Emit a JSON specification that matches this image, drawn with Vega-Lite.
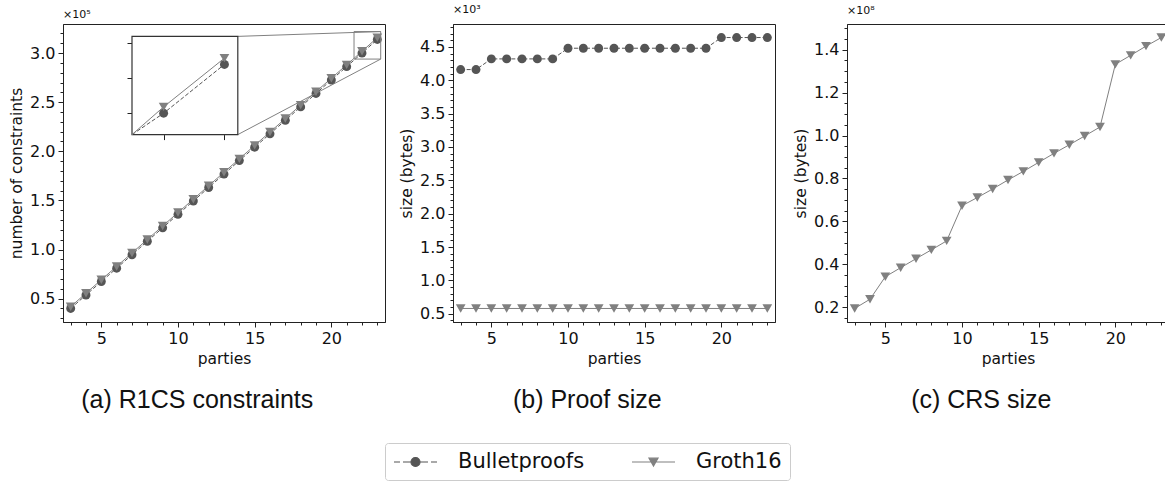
{
  "$schema": "https://vega.github.io/schema/vega-lite/v6.json",
  "background": "white",
  "padding": {"left": 9, "top": 3, "right": 0, "bottom": 0},
  "datasets": {
    "constraints": [
      {"parties": 3, "scheme": "Bulletproofs", "value": 40000},
      {"parties": 4, "scheme": "Bulletproofs", "value": 53700},
      {"parties": 5, "scheme": "Bulletproofs", "value": 67400},
      {"parties": 6, "scheme": "Bulletproofs", "value": 81000},
      {"parties": 7, "scheme": "Bulletproofs", "value": 94700},
      {"parties": 8, "scheme": "Bulletproofs", "value": 108400},
      {"parties": 9, "scheme": "Bulletproofs", "value": 122100},
      {"parties": 10, "scheme": "Bulletproofs", "value": 135800},
      {"parties": 11, "scheme": "Bulletproofs", "value": 149400},
      {"parties": 12, "scheme": "Bulletproofs", "value": 163100},
      {"parties": 13, "scheme": "Bulletproofs", "value": 176800},
      {"parties": 14, "scheme": "Bulletproofs", "value": 190500},
      {"parties": 15, "scheme": "Bulletproofs", "value": 204200},
      {"parties": 16, "scheme": "Bulletproofs", "value": 217800},
      {"parties": 17, "scheme": "Bulletproofs", "value": 231500},
      {"parties": 18, "scheme": "Bulletproofs", "value": 245200},
      {"parties": 19, "scheme": "Bulletproofs", "value": 258900},
      {"parties": 20, "scheme": "Bulletproofs", "value": 272600},
      {"parties": 21, "scheme": "Bulletproofs", "value": 286200},
      {"parties": 22, "scheme": "Bulletproofs", "value": 300000},
      {"parties": 23, "scheme": "Bulletproofs", "value": 313900},
      {"parties": 3, "scheme": "Groth16", "value": 41800},
      {"parties": 4, "scheme": "Groth16", "value": 55500},
      {"parties": 5, "scheme": "Groth16", "value": 69200},
      {"parties": 6, "scheme": "Groth16", "value": 82800},
      {"parties": 7, "scheme": "Groth16", "value": 96500},
      {"parties": 8, "scheme": "Groth16", "value": 110200},
      {"parties": 9, "scheme": "Groth16", "value": 123900},
      {"parties": 10, "scheme": "Groth16", "value": 137600},
      {"parties": 11, "scheme": "Groth16", "value": 151200},
      {"parties": 12, "scheme": "Groth16", "value": 164900},
      {"parties": 13, "scheme": "Groth16", "value": 178600},
      {"parties": 14, "scheme": "Groth16", "value": 192300},
      {"parties": 15, "scheme": "Groth16", "value": 206000},
      {"parties": 16, "scheme": "Groth16", "value": 219600},
      {"parties": 17, "scheme": "Groth16", "value": 233300},
      {"parties": 18, "scheme": "Groth16", "value": 247000},
      {"parties": 19, "scheme": "Groth16", "value": 260700},
      {"parties": 20, "scheme": "Groth16", "value": 274400},
      {"parties": 21, "scheme": "Groth16", "value": 288000},
      {"parties": 22, "scheme": "Groth16", "value": 301800},
      {"parties": 23, "scheme": "Groth16", "value": 315700}
    ],
    "proof": [
      {"parties": 3, "scheme": "Bulletproofs", "value": 4160},
      {"parties": 4, "scheme": "Bulletproofs", "value": 4160},
      {"parties": 5, "scheme": "Bulletproofs", "value": 4320},
      {"parties": 6, "scheme": "Bulletproofs", "value": 4320},
      {"parties": 7, "scheme": "Bulletproofs", "value": 4320},
      {"parties": 8, "scheme": "Bulletproofs", "value": 4320},
      {"parties": 9, "scheme": "Bulletproofs", "value": 4320},
      {"parties": 10, "scheme": "Bulletproofs", "value": 4480},
      {"parties": 11, "scheme": "Bulletproofs", "value": 4480},
      {"parties": 12, "scheme": "Bulletproofs", "value": 4480},
      {"parties": 13, "scheme": "Bulletproofs", "value": 4480},
      {"parties": 14, "scheme": "Bulletproofs", "value": 4480},
      {"parties": 15, "scheme": "Bulletproofs", "value": 4480},
      {"parties": 16, "scheme": "Bulletproofs", "value": 4480},
      {"parties": 17, "scheme": "Bulletproofs", "value": 4480},
      {"parties": 18, "scheme": "Bulletproofs", "value": 4480},
      {"parties": 19, "scheme": "Bulletproofs", "value": 4480},
      {"parties": 20, "scheme": "Bulletproofs", "value": 4640},
      {"parties": 21, "scheme": "Bulletproofs", "value": 4640},
      {"parties": 22, "scheme": "Bulletproofs", "value": 4640},
      {"parties": 23, "scheme": "Bulletproofs", "value": 4640},
      {"parties": 3, "scheme": "Groth16", "value": 580},
      {"parties": 4, "scheme": "Groth16", "value": 580},
      {"parties": 5, "scheme": "Groth16", "value": 580},
      {"parties": 6, "scheme": "Groth16", "value": 580},
      {"parties": 7, "scheme": "Groth16", "value": 580},
      {"parties": 8, "scheme": "Groth16", "value": 580},
      {"parties": 9, "scheme": "Groth16", "value": 580},
      {"parties": 10, "scheme": "Groth16", "value": 580},
      {"parties": 11, "scheme": "Groth16", "value": 580},
      {"parties": 12, "scheme": "Groth16", "value": 580},
      {"parties": 13, "scheme": "Groth16", "value": 580},
      {"parties": 14, "scheme": "Groth16", "value": 580},
      {"parties": 15, "scheme": "Groth16", "value": 580},
      {"parties": 16, "scheme": "Groth16", "value": 580},
      {"parties": 17, "scheme": "Groth16", "value": 580},
      {"parties": 18, "scheme": "Groth16", "value": 580},
      {"parties": 19, "scheme": "Groth16", "value": 580},
      {"parties": 20, "scheme": "Groth16", "value": 580},
      {"parties": 21, "scheme": "Groth16", "value": 580},
      {"parties": 22, "scheme": "Groth16", "value": 580},
      {"parties": 23, "scheme": "Groth16", "value": 580}
    ],
    "crs": [
      {"parties": 3, "scheme": "Groth16", "value": 19400000},
      {"parties": 4, "scheme": "Groth16", "value": 23700000},
      {"parties": 5, "scheme": "Groth16", "value": 34200000},
      {"parties": 6, "scheme": "Groth16", "value": 38400000},
      {"parties": 7, "scheme": "Groth16", "value": 42600000},
      {"parties": 8, "scheme": "Groth16", "value": 46700000},
      {"parties": 9, "scheme": "Groth16", "value": 50900000},
      {"parties": 10, "scheme": "Groth16", "value": 67300000},
      {"parties": 11, "scheme": "Groth16", "value": 71100000},
      {"parties": 12, "scheme": "Groth16", "value": 75100000},
      {"parties": 13, "scheme": "Groth16", "value": 79300000},
      {"parties": 14, "scheme": "Groth16", "value": 83300000},
      {"parties": 15, "scheme": "Groth16", "value": 87500000},
      {"parties": 16, "scheme": "Groth16", "value": 91700000},
      {"parties": 17, "scheme": "Groth16", "value": 95700000},
      {"parties": 18, "scheme": "Groth16", "value": 99800000},
      {"parties": 19, "scheme": "Groth16", "value": 104000000},
      {"parties": 20, "scheme": "Groth16", "value": 133200000},
      {"parties": 21, "scheme": "Groth16", "value": 137400000},
      {"parties": 22, "scheme": "Groth16", "value": 141700000},
      {"parties": 23, "scheme": "Groth16", "value": 145700000}
    ],
    "zoom": [
      {"ix0": 7, "ix1": 13.9, "iy0": 217000, "iy1": 317000, "zx0": 21.48, "zx1": 23.22, "zy0": 293900, "zy1": 321900}
    ]
  },
  "config": {
    "view": {"stroke": "#222222", "strokeWidth": 1},
    "axis": {
      "labelFont": "DejaVu Sans", "labelFontSize": 16, "labelColor": "#111111",
      "titleFont": "DejaVu Sans", "titleFontSize": 15.5, "titleFontWeight": "normal", "titleColor": "#111111",
      "tickColor": "#222222", "domainColor": "#222222", "grid": false,
      "labelPadding": 3, "titlePadding": 5, "labelOverlap": false, "labelFlush": false
    }
  },
  "spacing": 17,
  "hconcat": [
    {
      "spacing": 13,
      "hconcat": [
        {
          "title": {"text": "(a) R1CS constraints", "orient": "bottom", "frame": "bounds", "anchor": "middle", "font": "Liberation Sans", "fontSize": 25, "fontWeight": "normal", "color": "#111111", "offset": 21},
          "vconcat": [
            {
              "width": 322, "height": 298,
              "title": {"text": "×10⁵", "orient": "top", "anchor": "start", "frame": "group", "font": "DejaVu Sans", "fontSize": 11, "fontWeight": "normal", "color": "#111111", "offset": 4},
              "resolve": {"scale": {"x": "independent", "y": "independent"}},
              "layer": [
                {
                  "data": {"name": "constraints"},
                  "encoding": {
                    "x": {"field": "parties", "type": "quantitative", "title": "parties", "scale": {"domain": [2.5, 23.5], "nice": false, "zero": false},
                      "axis": {"values": [3,4,5,6,7,8,9,10,11,12,13,14,15,16,17,18,19,20,21,22,23], "labelExpr": "datum.value % 5 === 0 ? datum.label : ''", "tickSize": {"condition": {"test": "datum.value % 5 === 0", "value": 5}, "value": 3}, "title": "parties"}},
                    "y": {"field": "value", "type": "quantitative", "title": "number of constraints", "scale": {"domain": [26200, 329600], "nice": false, "zero": false},
                      "axis": {"values": [30000,40000,50000,60000,70000,80000,90000,100000,110000,120000,130000,140000,150000,160000,170000,180000,190000,200000,210000,220000,230000,240000,250000,260000,270000,280000,290000,300000,310000,320000], "labelExpr": "datum.value % 50000 === 0 ? format(datum.value / 100000, '.1f') : ''", "tickSize": {"condition": {"test": "datum.value % 50000 === 0", "value": 5}, "value": 3}, "title": "number of constraints"}}
                  },
                  "layer": [
                    {"transform": [{"filter": "datum.scheme === 'Bulletproofs'"}], "mark": {"type": "line", "color": "#555555", "strokeDash": [4, 2], "strokeWidth": 1}, "encoding": {}},
                    {"transform": [{"filter": "datum.scheme === 'Groth16'"}], "mark": {"type": "line", "color": "#808080", "strokeWidth": 1}, "encoding": {}},
                    {"transform": [{"filter": "datum.scheme === 'Bulletproofs'"}], "mark": {"type": "point", "shape": "circle", "filled": true, "color": "#555555", "size": 80, "opacity": 1}},
                    {"transform": [{"filter": "datum.scheme === 'Groth16'"}], "mark": {"type": "point", "shape": "triangle-down", "filled": true, "color": "#808080", "size": 95, "opacity": 1}},
                    {
                      "data": {"name": "zoom"},
                      "mark": {"type": "rect", "filled": false, "color": "#808080", "strokeWidth": 1},
                      "encoding": {
                        "x": {"field": "zx0", "type": "quantitative", "title": "parties", "scale": {"domain": [2.5, 23.5], "nice": false, "zero": false}},
                        "x2": {"field": "zx1"},
                        "y": {"field": "zy0", "type": "quantitative", "title": "number of constraints", "scale": {"domain": [26200, 329600], "nice": false, "zero": false}},
                        "y2": {"field": "zy1"}
                      }
                    },
                    {
                      "data": {"name": "zoom"},
                      "mark": {"type": "rule", "color": "#808080", "strokeWidth": 1},
                      "encoding": {
                        "x": {"field": "ix1", "type": "quantitative", "title": "parties", "scale": {"domain": [2.5, 23.5], "nice": false, "zero": false}},
                        "x2": {"field": "zx1"},
                        "y": {"field": "iy1", "type": "quantitative", "title": "number of constraints", "scale": {"domain": [26200, 329600], "nice": false, "zero": false}},
                        "y2": {"field": "zy1"}
                      }
                    },
                    {
                      "data": {"name": "zoom"},
                      "mark": {"type": "rule", "color": "#808080", "strokeWidth": 1},
                      "encoding": {
                        "x": {"field": "ix1", "type": "quantitative", "title": "parties", "scale": {"domain": [2.5, 23.5], "nice": false, "zero": false}},
                        "x2": {"field": "zx1"},
                        "y": {"field": "iy0", "type": "quantitative", "title": "number of constraints", "scale": {"domain": [26200, 329600], "nice": false, "zero": false}},
                        "y2": {"field": "zy0"}
                      }
                    },
                    {
                      "data": {"name": "zoom"},
                      "mark": {"type": "rect", "fill": "white", "stroke": "#333333", "strokeWidth": 1.2},
                      "encoding": {
                        "x": {"field": "ix0", "type": "quantitative", "title": "parties", "scale": {"domain": [2.5, 23.5], "nice": false, "zero": false}},
                        "x2": {"field": "ix1"},
                        "y": {"field": "iy0", "type": "quantitative", "title": "number of constraints", "scale": {"domain": [26200, 329600], "nice": false, "zero": false}},
                        "y2": {"field": "iy1"}
                      }
                    }
                  ]
                },
                {
                  "data": {"name": "constraints"},
                  "transform": [{"filter": "datum.parties >= 21"}],
                  "encoding": {
                    "x": {"field": "parties", "type": "quantitative", "scale": {"domain": [21.48, 23.22], "range": [69, 174.8], "clamp": true, "nice": false, "zero": false},
                      "axis": {"orient": "bottom", "offset": -187.4, "values": [22, 23], "labels": false, "domain": false, "title": null, "tickSize": 5}},
                    "y": {"field": "value", "type": "quantitative", "scale": {"domain": [293900, 321900], "range": [110.6, 12.4], "clamp": true, "nice": false, "zero": false},
                      "axis": {"orient": "left", "offset": -69, "values": [300000, 310000, 320000], "labels": false, "domain": false, "title": null, "tickSize": 5}}
                  },
                  "layer": [
                    {"transform": [{"filter": "datum.scheme === 'Bulletproofs'"}], "mark": {"type": "line", "color": "#555555", "strokeDash": [4, 2], "strokeWidth": 1}, "encoding": {}},
                    {"transform": [{"filter": "datum.scheme === 'Groth16'"}], "mark": {"type": "line", "color": "#808080", "strokeWidth": 1}, "encoding": {}},
                    {"transform": [{"filter": "datum.scheme === 'Bulletproofs' && datum.parties >= 22"}], "mark": {"type": "point", "shape": "circle", "filled": true, "color": "#555555", "size": 80, "opacity": 1}},
                    {"transform": [{"filter": "datum.scheme === 'Groth16' && datum.parties >= 22"}], "mark": {"type": "point", "shape": "triangle-down", "filled": true, "color": "#808080", "size": 95, "opacity": 1}}
                  ]
                }
              ]
            }
          ]
        },
        {
          "title": {"text": "(b) Proof size", "orient": "bottom", "frame": "bounds", "anchor": "middle", "font": "Liberation Sans", "fontSize": 25, "fontWeight": "normal", "color": "#111111", "offset": 21},
          "vconcat": [
            {
              "width": 322, "height": 298,
              "title": {"text": "×10³", "orient": "top", "anchor": "start", "frame": "group", "font": "DejaVu Sans", "fontSize": 11, "fontWeight": "normal", "color": "#111111", "offset": 4},
              "data": {"name": "proof"},
              "encoding": {
                "x": {"field": "parties", "type": "quantitative", "title": "parties", "scale": {"domain": [2.5, 23.5], "nice": false, "zero": false},
                  "axis": {"values": [3,4,5,6,7,8,9,10,11,12,13,14,15,16,17,18,19,20,21,22,23], "labelExpr": "datum.value % 5 === 0 ? datum.label : ''", "tickSize": {"condition": {"test": "datum.value % 5 === 0", "value": 5}, "value": 3}, "title": "parties"}},
                "y": {"field": "value", "type": "quantitative", "title": "size (bytes)", "scale": {"domain": [377, 4843], "nice": false, "zero": false},
                  "axis": {"values": [400,500,600,700,800,900,1000,1100,1200,1300,1400,1500,1600,1700,1800,1900,2000,2100,2200,2300,2400,2500,2600,2700,2800,2900,3000,3100,3200,3300,3400,3500,3600,3700,3800,3900,4000,4100,4200,4300,4400,4500,4600,4700,4800], "labelExpr": "datum.value % 500 === 0 ? format(datum.value / 1000, '.1f') : ''", "tickSize": {"condition": {"test": "datum.value % 500 === 0", "value": 5}, "value": 3}, "title": "size (bytes)"}}
              },
              "layer": [
                {"transform": [{"filter": "datum.scheme === 'Bulletproofs'"}], "mark": {"type": "line", "color": "#555555", "strokeDash": [4, 2], "strokeWidth": 1}, "encoding": {}},
                {"transform": [{"filter": "datum.scheme === 'Groth16'"}], "mark": {"type": "line", "color": "#808080", "strokeWidth": 1}, "encoding": {}},
                {"transform": [{"filter": "datum.scheme === 'Bulletproofs'"}], "mark": {"type": "point", "shape": "circle", "filled": true, "color": "#555555", "size": 80, "opacity": 1}},
                {"transform": [{"filter": "datum.scheme === 'Groth16'"}], "mark": {"type": "point", "shape": "triangle-down", "filled": true, "color": "#808080", "size": 95, "opacity": 1}}
              ]
            }
          ]
        }
      ]
    },
    {
      "title": {"text": "(c) CRS size", "orient": "bottom", "frame": "bounds", "anchor": "middle", "font": "Liberation Sans", "fontSize": 25, "fontWeight": "normal", "color": "#111111", "offset": 21},
      "vconcat": [
        {
          "width": 322, "height": 298,
          "title": {"text": "×10⁸", "orient": "top", "anchor": "start", "frame": "group", "font": "DejaVu Sans", "fontSize": 11, "fontWeight": "normal", "color": "#111111", "offset": 4},
          "data": {"name": "crs"},
          "encoding": {
            "x": {"field": "parties", "type": "quantitative", "title": "parties", "scale": {"domain": [2.5, 23.5], "nice": false, "zero": false},
              "axis": {"values": [3,4,5,6,7,8,9,10,11,12,13,14,15,16,17,18,19,20,21,22,23], "labelExpr": "datum.value % 5 === 0 ? datum.label : ''", "tickSize": {"condition": {"test": "datum.value % 5 === 0", "value": 5}, "value": 3}, "title": "parties"}},
            "y": {"field": "value", "type": "quantitative", "title": "size (bytes)", "scale": {"domain": [13085000, 152015000], "nice": false, "zero": false},
              "axis": {"values": [15000000,20000000,25000000,30000000,35000000,40000000,45000000,50000000,55000000,60000000,65000000,70000000,75000000,80000000,85000000,90000000,95000000,100000000,105000000,110000000,115000000,120000000,125000000,130000000,135000000,140000000,145000000,150000000], "labelExpr": "datum.value % 20000000 === 0 ? format(datum.value / 100000000, '.1f') : ''", "tickSize": {"condition": {"test": "datum.value % 20000000 === 0", "value": 5}, "value": 3}, "title": "size (bytes)"}}
          },
          "layer": [
            {"mark": {"type": "line", "color": "#808080", "strokeWidth": 1}, "encoding": {}},
            {"mark": {"type": "point", "shape": "triangle-down", "filled": true, "color": "#808080", "size": 95, "opacity": 1}},
            {
              "transform": [{"filter": "false"}],
              "mark": {"type": "point", "filled": true, "opacity": 1},
              "encoding": {
                "shape": {"field": "scheme", "type": "nominal",
                  "scale": {"domain": ["Bulletproofs", "Groth16"], "range": ["M-1,0H-0.4M-0.1,0H0.75M1.55,0H2.4M2.7,0H3.3M1.6,0A0.45,0.45,0,1,1,0.7,0A0.45,0.45,0,1,1,1.6,0Z", "M-1,0H3.3M0.7,-0.38L1.6,-0.38L1.15,0.4Z"]},
                  "legend": {"orient": "none", "legendX": 322, "legendY": 419, "direction": "horizontal", "title": null, "labelFont": "DejaVu Sans", "labelFontSize": 21, "labelColor": "#111111", "symbolSize": 400, "symbolStrokeWidth": 1.2, "labelOffset": 43, "columnPadding": 44, "padding": 8, "strokeColor": "#cccccc", "cornerRadius": 3, "fillColor": "white"}},
                "color": {"field": "scheme", "type": "nominal",
                  "scale": {"domain": ["Bulletproofs", "Groth16"], "range": ["#555555", "#808080"]},
                  "legend": {"orient": "none", "legendX": 322, "legendY": 419, "direction": "horizontal", "title": null, "labelFont": "DejaVu Sans", "labelFontSize": 21, "labelColor": "#111111", "symbolSize": 400, "symbolStrokeWidth": 1.2, "labelOffset": 43, "columnPadding": 44, "padding": 8, "strokeColor": "#cccccc", "cornerRadius": 3, "fillColor": "white"}},
                "stroke": {"field": "scheme", "type": "nominal",
                  "scale": {"domain": ["Bulletproofs", "Groth16"], "range": ["#555555", "#808080"]},
                  "legend": {"orient": "none", "legendX": 322, "legendY": 419, "direction": "horizontal", "title": null, "labelFont": "DejaVu Sans", "labelFontSize": 21, "labelColor": "#111111", "symbolSize": 400, "symbolStrokeWidth": 1.2, "labelOffset": 43, "columnPadding": 44, "padding": 8, "strokeColor": "#cccccc", "cornerRadius": 3, "fillColor": "white"}}
              }
            }
          ]
        }
      ]
    }
  ]
}
